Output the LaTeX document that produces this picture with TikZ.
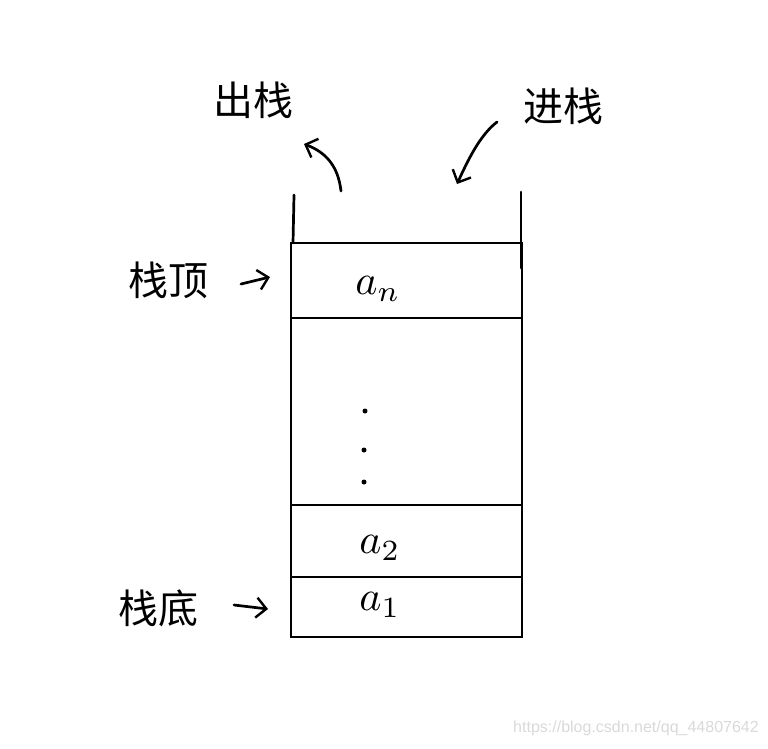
\documentclass[tikz,border=0pt]{standalone}
\usepackage{fontspec}
\newfontfamily\cjk{Noto Sans CJK SC}
\newfontfamily\wmfont{Liberation Sans}
\usetikzlibrary{arrows.meta}
\newcommand{\bigel}[1]{\scalebox{4.2}{$#1$}}
\begin{document}
\begin{tikzpicture}[x=1pt,y=-1pt,
  ink/.style={line width=2.7pt,line cap=round,black},
  cell/.style={draw,line width=2.7pt,rectangle,minimum width=231pt,inner sep=0pt,outer sep=0pt},
  lbl/.style={font=\cjk\fontsize{40}{44}\selectfont,inner sep=0pt},
  elem/.style={inner sep=0pt},
  dot/.style={circle,fill=black,inner sep=0pt,minimum size=5pt},
  arr/.style={ink,-{Straight Barb[length=10pt,width=20pt,line width=2.4pt]}}]
\useasboundingbox (0,0) rectangle (768,748);
% stack cells
\node[cell,minimum height=75pt] (cn) at (406.5,280.5) {};
\node[cell,minimum height=187pt] (cd) at (406.5,411.5) {};
\node[cell,minimum height=72pt] (c2) at (406.5,541) {};
\node[cell,minimum height=60pt] (c1) at (406.5,607) {};
% walls above the stack
\coordinate (wl1) at (294,195);
\coordinate (wl2) at (293,243);
\coordinate (wr1) at (521,192);
\coordinate (wr2) at (521,268);
\draw[ink] (wl1) -- (wl2);
\draw[ink] (wr1) -- (wr2);
% element labels
\node[elem] (an) at (378,289) {\bigel{a_n}};
\node[elem] (a2) at (380,548) {\bigel{a_2}};
\node[elem] (a1) at (380,605) {\bigel{a_1}};
\node[dot] (d1) at (365,411) {};
\node[dot] (d2) at (364,450) {};
\node[dot] (d3) at (364,482) {};
% side labels
\node[lbl] (top) at (168,280) {栈顶};
\node[lbl] (bot) at (158,608) {栈底};
\coordinate (t0) at (241,284);
\coordinate (b0) at (234,605);
\draw[arr] (t0) -- ([xshift=-21pt,yshift=3.5pt]cn.west);
\draw[arr] (b0) -- ([xshift=-23pt,yshift=-2pt]c1.west);
% push / pop
\node[lbl] (pop) at (253,100) {出栈};
\node[lbl] (push) at (563,106) {进栈};
\coordinate (pops) at (341,191);
\coordinate (pope) at (304,144);
\draw[arr] (pops) .. controls (338,165) and (325,152) .. (pope);
\coordinate (pushs) at (497,122);
\coordinate (pushe) at (457,184);
\draw[arr] (pushs) .. controls (480,135) and (468,160) .. (pushe);
% watermark
\node[font=\wmfont\fontsize{16}{18}\selectfont,text=black!15,inner sep=0pt] (wm) at (636,728) {https://blog.csdn.net/qq\_44807642};
\end{tikzpicture}
\end{document}
